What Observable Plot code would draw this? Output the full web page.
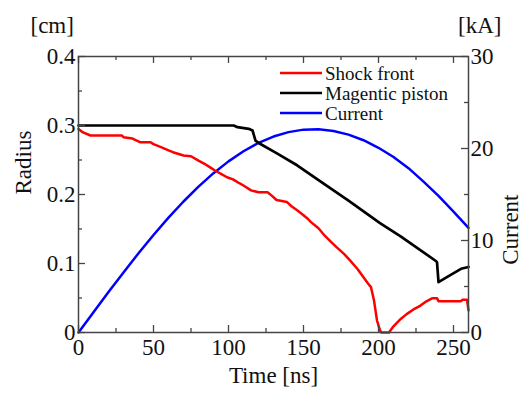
<!DOCTYPE html>
<html><head><meta charset="utf-8">
<script src="https://cdn.jsdelivr.net/npm/d3@7"></script>
<script src="https://cdn.jsdelivr.net/npm/@observablehq/plot@0.6"></script>
<style>
body{margin:0;background:#fff;}
#wrap{position:relative;width:523px;height:394px;}
#legend{position:absolute;left:0;top:0;pointer-events:none;}
</style></head><body><div id="wrap"></div>
<script>
// Shock front radius [cm] vs time [ns]
const shockT = [0,3,8,29,30,36,41,48,50,55,60,63,70,75,80,84,88,91,95,99,103,106,110,115,120,126,129,132,139,142,146,150,153,155,160,164,168,172,177,181,186,190,193,195,197,199,201,202,207,210,215,219,224,228,231,236,239,240,255,256,259,260];
const shockR = [0.295,0.290,0.2855,0.2855,0.283,0.281,0.2758,0.2758,0.273,0.2686,0.264,0.2613,0.2565,0.2555,0.249,0.2445,0.239,0.2348,0.230,0.225,0.222,0.218,0.213,0.206,0.2033,0.2033,0.198,0.192,0.189,0.183,0.1768,0.170,0.1645,0.160,0.151,0.1406,0.132,0.1237,0.114,0.1044,0.092,0.080,0.071,0.0657,0.0464,0.0174,0.003,0,0,0.009,0.020,0.027,0.0343,0.039,0.044,0.0498,0.0498,0.0454,0.0454,0.0474,0.0474,0.032];
// Magnetic piston radius [cm]
const pistonT = [0,103.5,106,113.5,116,118,121,132,146,161,180,201,215,238,239,240,247,255,260];
const pistonR = [0.300,0.300,0.2976,0.2952,0.2928,0.278,0.2735,0.2600,0.2420,0.2195,0.191,0.1585,0.139,0.104,0.102,0.073,0.082,0.0923,0.095];
// Current [kA]
const currentT = [0,10,20,30,40,50,60,70,80,90,100,110,120,130,140,150,160,170,180,190,200,210,220,230,240,250,260];
const currentI = [0,2.21,4.39,6.53,8.61,10.60,12.48,14.24,15.86,17.32,18.60,19.70,20.61,21.30,21.78,22.05,22.09,21.91,21.51,20.90,20.08,19.07,17.86,16.40,14.85,13.15,11.38];
// Tick values
const xTicks = [0,50,100,150,200,250];
const xMinor = [25,75,125,175,225];
const yTicks = [0,0.1,0.2,0.3,0.4];
const yMinor = [0.05,0.15,0.25,0.35];
const iTicks = [0,10,20,30];
const iMinor = [5,15,25];
const seriesNames = ["Shock front","Magentic piston","Current"];
const seriesColors = ["#ff0000","#000000","#0000ff"];

const W = 523, H = 394;
const ml = 78, mr = 55, mt = 56, mb = 62;
const pw = W - ml - mr, ph = H - mt - mb;
const axisColor = "#444";
const k = 0.4 / 30; // kA -> cm axis mapping
const font = "'Liberation Serif','Times New Roman',serif";
const fs = 23;

const shock = shockT.map((t, i) => ({t, v: shockR[i]}));
const piston = pistonT.map((t, i) => ({t, v: pistonR[i]}));
const current = currentT.map((t, i) => ({t, v: currentI[i] * k}));

const plot = Plot.plot({
  width: W, height: H,
  marginLeft: ml, marginRight: mr, marginTop: mt, marginBottom: mb,
  style: {fontFamily: font, fontSize: fs + "px", color: "#111", background: "#fff"},
  x: {domain: [0, 260]},
  y: {domain: [0, 0.4]},
  marks: [
    Plot.line(current, {x: "t", y: "v", stroke: seriesColors[2], strokeWidth: 2.5}),
    Plot.line(piston, {x: "t", y: "v", stroke: seriesColors[1], strokeWidth: 2.7}),
    Plot.line(shock, {x: "t", y: "v", stroke: seriesColors[0], strokeWidth: 2.5}),
    Plot.tickX(xTicks, {x: d => d, insetTop: ph - 7, stroke: axisColor, strokeWidth: 1.3}),
    Plot.tickX(xMinor, {x: d => d, insetTop: ph - 4, stroke: axisColor, strokeWidth: 1.3}),
    Plot.tickX(xTicks, {x: d => d, insetBottom: ph - 7, stroke: axisColor, strokeWidth: 1.3}),
    Plot.tickX(xMinor, {x: d => d, insetBottom: ph - 4, stroke: axisColor, strokeWidth: 1.3}),
    Plot.tickY(yTicks, {y: d => d, insetRight: pw - 7, stroke: axisColor, strokeWidth: 1.3}),
    Plot.tickY(yMinor, {y: d => d, insetRight: pw - 4, stroke: axisColor, strokeWidth: 1.3}),
    Plot.tickY(iTicks, {y: d => d * k, insetLeft: pw - 7, stroke: axisColor, strokeWidth: 1.3}),
    Plot.tickY(iMinor, {y: d => d * k, insetLeft: pw - 4, stroke: axisColor, strokeWidth: 1.3}),
    Plot.frame({stroke: axisColor, strokeWidth: 1.5}),
    Plot.axisX(xTicks, {tickSize: 0, tickPadding: 6, label: null, tickFormat: d => String(d), fontSize: fs}),
    Plot.axisY(yTicks, {tickSize: 0, tickPadding: 3, label: null, tickFormat: d => d === 0 ? "0" : d.toFixed(1), fontSize: fs}),
    Plot.axisY(iTicks.map(c => c * k), {anchor: "right", tickSize: 0, tickPadding: 2, label: null, tickFormat: d => String(Math.round(d / k)), fontSize: fs}),
    Plot.text(["Time [ns]"], {frameAnchor: "bottom", dy: 50, fontSize: fs, fill: "#111"}),
    Plot.text(["Radius"], {frameAnchor: "left", dx: -55, rotate: -90, fontSize: fs, fill: "#111"}),
    Plot.text(["Current"], {frameAnchor: "right", dx: 42, rotate: -90, fontSize: fs, fill: "#111"}),
    Plot.text(["[cm]"], {frameAnchor: "top-left", dx: -48, dy: -40, fontSize: fs, fill: "#111"}),
    Plot.text(["[kA]"], {frameAnchor: "top-right", dx: 33, dy: -40, fontSize: fs, fill: "#111"})
  ]
});
const wrap = document.getElementById("wrap");
wrap.appendChild(plot);

// Legend overlay
const ns = "http://www.w3.org/2000/svg";
const lg = document.createElementNS(ns, "svg");
lg.setAttribute("id", "legend");
lg.setAttribute("width", W); lg.setAttribute("height", H);
seriesNames.forEach((name, i) => {
  const y = 73 + i * 20;
  const ln = document.createElementNS(ns, "line");
  ln.setAttribute("x1", 280); ln.setAttribute("x2", 322);
  ln.setAttribute("y1", y); ln.setAttribute("y2", y);
  ln.setAttribute("stroke", seriesColors[i]); ln.setAttribute("stroke-width", 2.5);
  lg.appendChild(ln);
  const tx = document.createElementNS(ns, "text");
  tx.setAttribute("x", 325); tx.setAttribute("y", y);
  tx.setAttribute("dy", "0.35em");
  tx.setAttribute("font-family", font); tx.setAttribute("font-size", 19);
  tx.setAttribute("fill", "#111");
  tx.textContent = name;
  lg.appendChild(tx);
});
wrap.appendChild(lg);
</script></body></html>
